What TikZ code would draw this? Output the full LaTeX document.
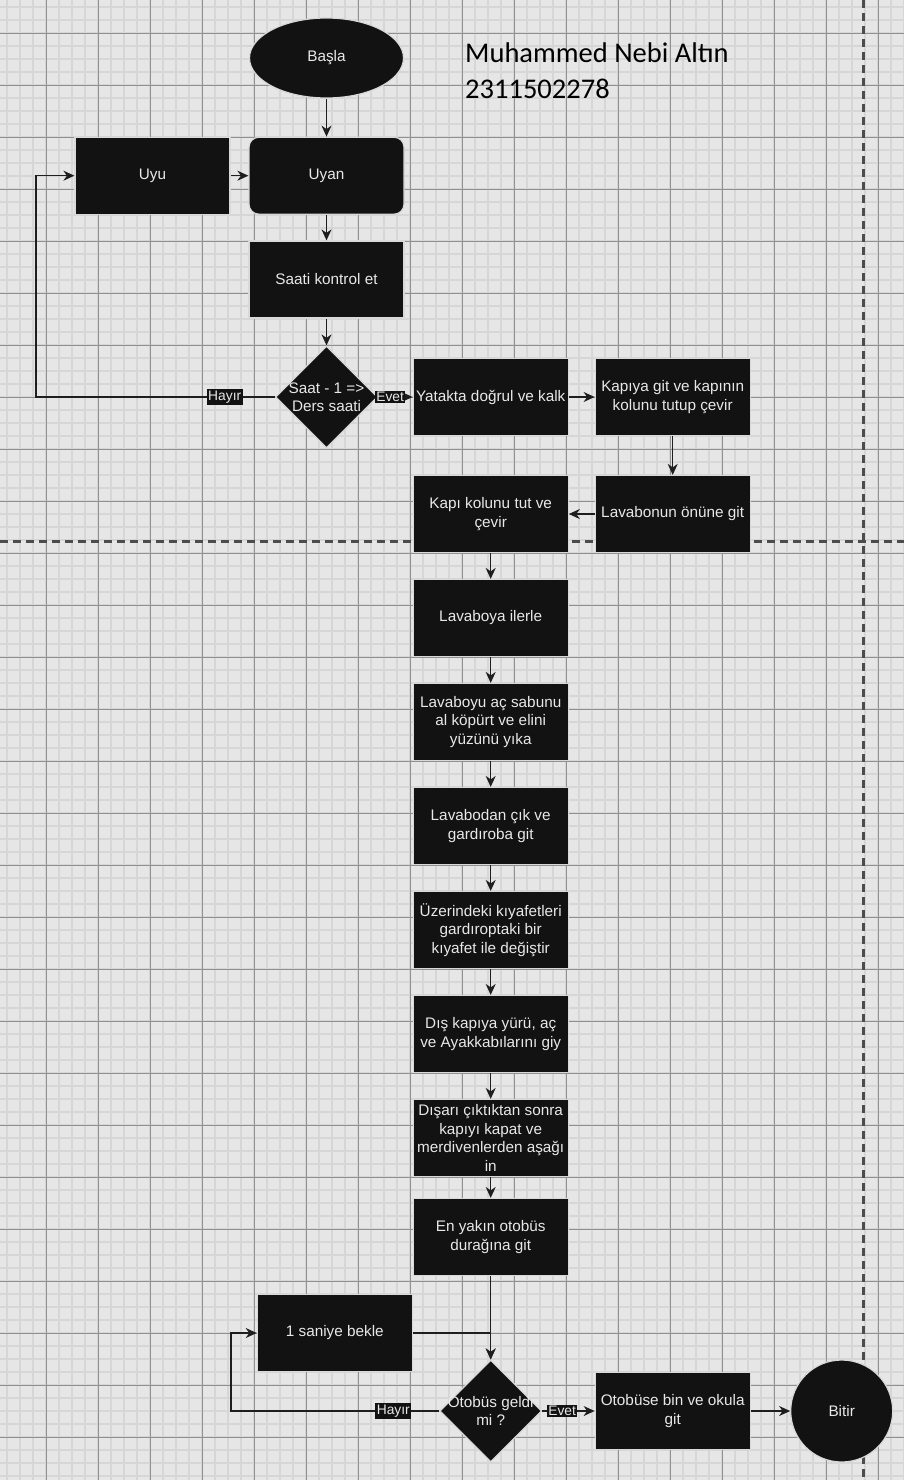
\documentclass[tikz,border=0pt]{standalone}
\usepackage{fontspec}
\setmainfont{Liberation Sans}
\newfontfamily\titlefont{Carlito}
\usetikzlibrary{shapes.geometric}
\usetikzlibrary{arrows.meta}

\definecolor{paper}{HTML}{E6E6E6}
\definecolor{minorline}{HTML}{D6D6D6}
\definecolor{majorline}{HTML}{909090}
\definecolor{boxfill}{HTML}{121212}
\definecolor{boxtext}{HTML}{E8E8E8}
\definecolor{wire}{HTML}{1E1E1E}

\begin{document}
\begin{tikzpicture}[
		x=1pt, y=-1pt,
		>={Stealth[length=11pt,width=10pt,inset=3.5pt]},
		every node/.style={font=\fontsize{15.3}{18.4}\selectfont, text=boxtext, align=center},
		proc/.style={rectangle, fill=boxfill, draw=black!15, line width=1.2pt, minimum width=155pt, minimum height=77pt, inner sep=0.5pt},
		decision/.style={diamond, fill=boxfill, draw=black!15, line width=1.2pt, minimum width=102pt, minimum height=102pt, inner sep=0pt},
		terminal/.style={ellipse, fill=boxfill, draw=black!15, line width=1.2pt, minimum width=154pt, minimum height=80pt, inner sep=0pt},
		dlabel/.style={inner sep=0pt},
		answer/.style={fill=boxfill, inner sep=1.5pt, font=\fontsize{13.8}{15}\selectfont},
		flow/.style={->, draw=wire, line width=1.3pt},
		pre/.style={<-, draw=wire, line width=1.3pt}
	]

		% Paper and grid
		\useasboundingbox (0,0) rectangle (904,1480);
		\clip (0,0) rectangle (904,1480);
		\fill[paper] (0,0) rectangle (904,1480);
		\foreach \g in {0,...,113} {
			\draw[minorline, line width=2pt] ({7.3+13*\g},0) -- ({7.3+13*\g},1480);
			\draw[minorline, line width=2pt] (0,{7.3+13*\g}) -- (904,{7.3+13*\g});
		}
		\foreach \g in {0,...,28} {
			\draw[majorline, line width=1pt] ({46.3+52*\g},0) -- ({46.3+52*\g},1480);
			\draw[majorline, line width=1pt] (0,{33.3+52*\g}) -- (904,{33.3+52*\g});
		}
		\draw[black!70, line width=2.5pt, dash pattern=on 8pt off 5pt] (863.3,0) -- (863.3,1480);
		\draw[black!70, line width=2.5pt, dash pattern=on 8pt off 5pt] (0,541.7) -- (904,541.7);

		% Title
		\node[anchor=base west, inner sep=0pt, text=black, font=\titlefont\fontsize{28.5}{34}\selectfont] (author) at (465,63) {Muhammed Nebi Altın};
		\node[anchor=base west, inner sep=0pt, text=black, font=\titlefont\fontsize{28.5}{34}\selectfont] (number) at (465,99) {2311502278};

		% Wake up
		\node[terminal] (start) at (326.5,58) {Başla};
		\node[proc] (sleep) at (152.5,175.7) {Uyu};
		\node[proc, rounded corners=10pt] (wake) at (326.5,175.7) {Uyan}
			edge[pre] (start)
			edge[pre] (sleep);
		\node[proc] (check) at (326.5,279.5) {Saati kontrol et}
			edge[pre] (wake);
		\node[decision, label={[dlabel]center:{Saat - 1 =>\\Ders saati}}] (dec1) at (326.5,397) {}
			edge[pre] (check);

		% Morning routine
		\node[proc] (rise) at (490.7,397) {Yatakta doğrul ve kalk}
			edge[pre] node[answer, pos=0.65] {Evet} (dec1);
		\node[proc] (door) at (672.7,397) {Kapıya git ve kapının\\kolunu tutup çevir}
			edge[pre] (rise);
		\node[proc] (sink) at (672.7,514) {Lavabonun önüne git}
			edge[pre] (door);
		\node[proc] (handle) at (490.7,514) {Kapı kolunu tut ve\\çevir}
			edge[pre] (sink);
		\node[proc] (walk) at (490.7,618) {Lavaboya ilerle}
			edge[pre] (handle);
		\node[proc] (wash) at (490.7,722) {Lavaboyu aç sabunu\\al köpürt ve elini\\yüzünü yıka}
			edge[pre] (walk);
		\node[proc] (wardrobe) at (490.7,826) {Lavabodan çık ve\\gardıroba git}
			edge[pre] (wash);
		\node[proc] (dress) at (490.7,930) {Üzerindeki kıyafetleri\\gardıroptaki bir\\kıyafet ile değiştir}
			edge[pre] (wardrobe);
		\node[proc] (shoes) at (490.7,1034) {Dış kapıya yürü, aç\\ve Ayakkabılarını giy}
			edge[pre] (dress);
		\node[proc] (leave) at (490.7,1138) {Dışarı çıktıktan sonra\\kapıyı kapat ve\\merdivenlerden aşağı\\in}
			edge[pre] (shoes);
		\node[proc] (busstop) at (490.7,1237) {En yakın otobüs\\durağına git}
			edge[pre] (leave);

		% Waiting for the bus
		\node[proc] (wait) at (334.8,1333) {1 saniye bekle};
		\node[decision, label={[dlabel]center:{Otobüs geldi\\mi ?}}] (dec2) at (490.7,1411) {}
			edge[pre] (busstop);
		\node[proc] (board) at (672.7,1411) {Otobüse bin ve okula\\git}
			edge[pre] node[answer, pos=0.62] {Evet} (dec2);
		\node[circle, fill=boxfill, draw=black!15, line width=1.2pt, minimum size=102pt] (finish) at (841.7,1411) {Bitir}
			edge[pre] (board);

		% Loops back
		\coordinate (back1) at (36,397);
		\draw[flow] (dec1) -- node[answer, pos=0.21] {Hayır} (back1) |- (sleep);
		\draw[flow] (wait) -| (dec2);
		\coordinate (back2) at (231,1411);
		\draw[flow] (dec2) -- node[answer, pos=0.22] {Hayır} (back2) |- (wait);
	\end{tikzpicture}
\end{document}
